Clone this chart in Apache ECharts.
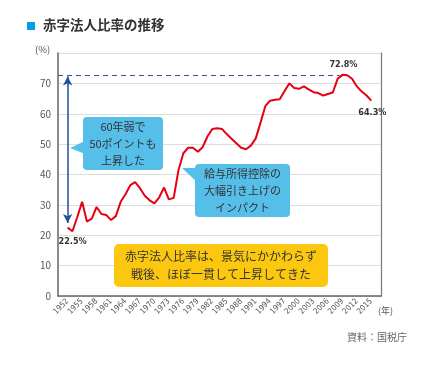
<!DOCTYPE html>
<html><head><meta charset="utf-8">
<script src="https://cdn.jsdelivr.net/npm/echarts@6/dist/echarts.min.js"></script>
<style>html,body{margin:0;padding:0;background:#fff}#c{width:438px;height:365px}</style>
</head><body><div id="c"></div>
<script>
const years = [];
for (let y = 1952; y <= 2015; y++) years.push(y);
const ratio = [22.5,21.3,26,31,24.5,25.5,29.3,27,26.7,25,26.3,31,33.5,36.5,37.5,35.5,33,31.5,30.5,32.5,35.7,31.8,32.3,41.5,47,48.8,48.8,47.5,49,52.5,55,55.2,55,53.3,51.8,50.3,48.8,48.3,49.5,51.8,57,62.5,64.3,64.6,64.8,67.5,70,68.5,68.2,69,68,67.1,66.8,66,66.5,67,71.5,72.8,72.7,71.5,69,67.3,66,64.3];
const xTickLabels = [1952,1955,1958,1961,1964,1967,1970,1973,1976,1979,1982,1985,1988,1991,1994,1997,2000,2003,2006,2009,2012,2015];
const yTicks = [0,10,20,30,40,50,60,70];
const title = '赤字法人比率の推移';
const note1 = '60年弱で\n50ポイントも\n上昇した';
const note2 = '給与所得控除の\n大幅引き上げの\nインパクト';
const note3 = '赤字法人比率は、景気にかかわらず\n戦後、ほぼ一貫して上昇してきた';
const source = '資料：国税庁';

const pts = ratio.map((v,i)=>[years[i], v]);
const firstV = ratio[0], lastV = ratio[ratio.length-1];
const maxV = Math.max(...ratio);
const maxYear = years[ratio.indexOf(maxV)];
const font = '"Noto Sans CJK JP","Noto Sans",sans-serif';
const numFont = '"Liberation Sans Narrow","DejaVu Sans Condensed","Roboto",sans-serif';

const chart = echarts.init(document.getElementById('c'), null, {renderer:'canvas'});
chart.setOption({
  animation:false,
  grid:{left:58,right:57,top:53,bottom:69,containLabel:false},
  xAxis:{type:'value',min:1950,max:2017,
    axisLine:{show:true,lineStyle:{color:'#666',width:1.5}},
    axisTick:{show:false},
    splitLine:{show:false},
    axisLabel:{customValues:xTickLabels,rotate:45,fontSize:8,color:'#555',margin:4,fontFamily:numFont,formatter:v=>String(v)}
  },
  yAxis:[{type:'value',min:0,max:80,interval:10,
    axisLine:{show:true,lineStyle:{color:'#666',width:1.5}},
    axisTick:{show:false},
    splitLine:{show:true,lineStyle:{color:'#ddd',width:1}},
    axisLabel:{fontSize:10,color:'#555',margin:7,fontFamily:font,formatter:v=>yTicks.includes(v)?String(v):''}
  },{type:'value',min:0,max:80,interval:10,position:'right',
    axisLine:{show:true,lineStyle:{color:'#777',width:1.2}},
    axisTick:{show:false},axisLabel:{show:false},splitLine:{show:false}}],
  series:[{type:'line',data:pts,showSymbol:false,symbol:'none',z:2,
    lineStyle:{color:'#e60012',width:2},
    markLine:{silent:true,symbol:['none','none'],label:{show:false},
      data:[
        [{coord:[1950,maxV],lineStyle:{color:'#3b4a9a',type:[5,4],width:1.2},symbol:'none'},{coord:[maxYear-0.6,maxV],symbol:'none'}],
        [{coord:[years[0],firstV+1.5],lineStyle:{color:'#1f4f9b',type:'solid',width:1.5},symbol:'arrow',symbolSize:[7,9]},{coord:[years[0],maxV-0.5],symbol:'arrow',symbolSize:[7,9]}]
      ]},
    markPoint:{symbol:'circle',symbolSize:0,
      data:[
        {coord:[years[0],firstV],label:{show:true,formatter:firstV+'%',position:'bottom',offset:[5,4],fontSize:9,fontWeight:'bold',color:'#333',fontFamily:numFont}},
        {coord:[maxYear,maxV],label:{show:true,formatter:maxV+'%',position:'top',offset:[1,-1],fontSize:9,fontWeight:'bold',color:'#333',fontFamily:numFont}},
        {coord:[years[years.length-1],lastV],label:{show:true,formatter:lastV+'%',position:'bottom',offset:[1,2],fontSize:9,fontWeight:'bold',color:'#333',fontFamily:numFont}}
      ]}
  }],
  graphic:{elements:[
    {type:'rect',left:27,top:22,z:100,shape:{width:8,height:8},style:{fill:'#00a0e9'}},
    {type:'text',left:43,top:18,z:100,style:{text:title,font:'bold 13.5px '+font,fill:'#333'}},
    {type:'text',left:35,top:45,z:100,style:{text:'(%)',font:'9.5px '+font,fill:'#555'}},
    {type:'text',left:378,top:306,z:100,style:{text:'(年)',font:'9px '+font,fill:'#555'}},
    {type:'text',left:347,top:332,z:100,style:{text:source,font:'10px '+font,fill:'#666'}},
    {type:'polygon',z:100,shape:{points:[[85,141],[70,148],[85,154]]},style:{fill:'#55bfea'}},
    {type:'rect',z:100,shape:{x:83,y:117,width:80,height:53,r:4},style:{fill:'#55bfea'}},
    {type:'text',z:101,x:123,y:143.5,style:{text:note1,font:'11px '+font,fill:'#333',align:'center',verticalAlign:'middle',lineHeight:17}},
    {type:'polygon',z:100,shape:{points:[[182,168],[197,168],[197,182]]},style:{fill:'#55bfea'}},
    {type:'rect',z:100,shape:{x:195,y:164,width:95,height:53,r:4},style:{fill:'#55bfea'}},
    {type:'text',z:101,x:242.5,y:190.5,style:{text:note2,font:'11px '+font,fill:'#333',align:'center',verticalAlign:'middle',lineHeight:17}},
    {type:'rect',z:100,shape:{x:114,y:244,width:214,height:43,r:5},style:{fill:'#fbc80f'}},
    {type:'text',z:101,x:221,y:265.5,style:{text:note3,font:'12px '+font,fill:'#333',align:'center',verticalAlign:'middle',lineHeight:18}}
  ]}
});
</script></body></html>
